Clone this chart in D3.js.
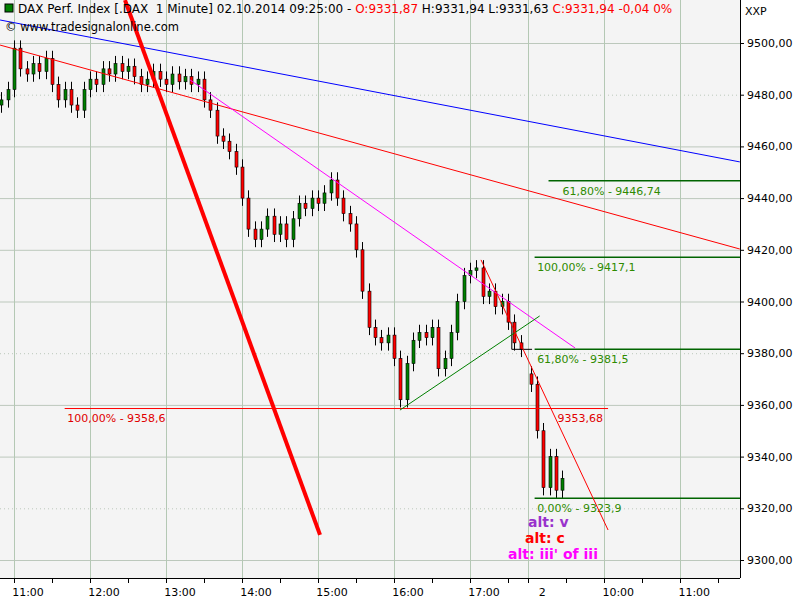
<!DOCTYPE html>
<html><head><meta charset="utf-8">
<script src="https://cdnjs.cloudflare.com/ajax/libs/d3/7.8.5/d3.min.js"></script>
<style>body{margin:0;background:#fff}text{font-family:"DejaVu Sans",sans-serif}</style>
</head><body><div id="chart"></div>
<script>
// t = minutes after 11:00 on day 1; day 2 09:00 continues at t=406
const day1Closes=[9478,9482,9498,9490,9488,9492,9489,9494,9484,9478,9482,9476,9474,9482,9486,9484,9490,9488,9492,9489,9491,9487,9484,9486,9489,9486,9484,9488,9485,9487,9484,9486,9478,9474,9464,9462,9458,9452,9440,9428,9424,9428,9433,9426,9430,9424,9432,9438,9436,9440,9438,9442,9447,9440,9434,9430,9420,9404,9390,9386,9384,9387,9378,9362,9376,9385,9388,9386,9390,9374,9378,9388,9400,9410,9412,9413,9402,9404,9398,9400,9392,9384,9381.5];
const day2Closes=[9368,9350,9328,9340,9327,9331.6];
const day2Open=9372;
const yTicks=[9300,9320,9340,9360,9380,9400,9420,9440,9460,9480,9500];
const dottedTicks=[9320,9380,9480];
const hourTicks=[{t:0,l:"11:00"},{t:60,l:"12:00"},{t:120,l:"13:00"},{t:180,l:"14:00"},{t:240,l:"15:00"},{t:300,l:"16:00"},{t:360,l:"17:00"},{t:406,l:"2"},{t:466,l:"10:00"},{t:526,l:"11:00"}];
const minorTicks=[-30,30,90,150,210,270,330,390,436,496,556];
const trendLines=[
 {a:[-11,9508.9],b:[573,9454],c:"#0000ff",w:1},
 {a:[-11,9499.2],b:[573,9420.3],c:"#ff0000",w:1},
 {a:[87.6,9516.6],b:[241.6,9309.7],c:"#ff0000",w:4},
 {a:[139,9485.7],b:[443,9382],c:"#ff00ff",w:1},
 {a:[304.7,9358],b:[415,9394.4],c:"#008000",w:1},
 {a:[368.7,9416.1],b:[469,9311.6],c:"#ff0000",w:1}
];
const fibs=[
 {p:9446.74,t0:422,l:"61,80% - 9446,74",lt:433},
 {p:9417.1,t0:411,l:"100,00% - 9417,1",lt:413},
 {p:9381.5,t0:411,l:"61,80% - 9381,5",lt:413},
 {p:9323.9,t0:411,l:"0,00% - 9323,9",lt:413}
];

const W=800,H=600,plotR=740,plotB=578;
const x=d3.scaleLinear().domain([0,60]).range([14,90]);
const y=d3.scaleLinear().domain([9300,9500]).range([560,43]);
const svg=d3.select("#chart").append("svg").attr("width",W).attr("height",H);
svg.append("rect").attr("width",plotR).attr("height",plotB).attr("fill","#f4f4f4");

// grid
svg.append("g").selectAll("line").data(yTicks).join("line")
 .attr("x1",0).attr("x2",plotR).attr("y1",d=>y(d)+.5).attr("y2",d=>y(d)+.5)
 .attr("stroke","#bcc8bc").attr("stroke-dasharray",d=>dottedTicks.includes(d)?"1,3":null);
svg.append("g").selectAll("line").data(hourTicks).join("line")
 .attr("x1",d=>Math.round(x(d.t))+.5).attr("x2",d=>Math.round(x(d.t))+.5).attr("y1",0).attr("y2",plotB)
 .attr("stroke","#b4c8b4");

// candles
const candles=[];
day1Closes.forEach((c,i)=>{const o=i?day1Closes[i-1]:9476;candles.push({t:-10+5*i,o,c});});
day2Closes.forEach((c,i)=>{const o=i?day2Closes[i-1]:day2Open;candles.push({t:406+2+5*i,o,c});});
const cg=svg.append("g");
cg.selectAll("line").data(candles).join("line")
 .attr("x1",d=>Math.round(x(d.t))+.5).attr("x2",d=>Math.round(x(d.t))+.5)
 .attr("y1",d=>y(Math.max(d.o,d.c)+3)).attr("y2",d=>y(Math.min(d.o,d.c)-3)).attr("stroke","#000");
cg.selectAll("rect").data(candles).join("rect")
 .attr("x",d=>Math.round(x(d.t))-1).attr("width",3)
 .attr("y",d=>y(Math.max(d.o,d.c))).attr("height",d=>Math.max(1,Math.abs(y(d.o)-y(d.c))))
 .attr("fill",d=>d.c>=d.o?"#008000":"#ff0000").attr("stroke","#000").attr("stroke-width",.6);

// step line
svg.append("path").attr("fill","none").attr("stroke","#000")
 .attr("d",d3.line()([[x(393),y(9392)],[x(393),y(9381.5)],[x(409),y(9381.5)]]));

// horizontal red
svg.append("line").attr("x1",x(40)).attr("x2",x(469)).attr("y1",y(9358.6)).attr("y2",y(9358.6)).attr("stroke","#ff0000");
svg.append("text").attr("x",x(42)).attr("y",y(9358.6)+13).attr("font-size",11).attr("fill","#e00000").text("100,00% - 9358,6");
svg.append("text").attr("x",x(429)).attr("y",y(9358.6)+13).attr("font-size",11).attr("fill","#e00000").text("9353,68");

// fibs
fibs.forEach(f=>{
 svg.append("line").attr("x1",x(f.t0)).attr("x2",plotR).attr("y1",y(f.p)).attr("y2",y(f.p)).attr("stroke","#006400").attr("stroke-width",1.5);
 svg.append("text").attr("x",x(f.lt)).attr("y",y(f.p)+14).attr("font-size",11).attr("fill","#2e8b00").text(f.l);
});

// trend lines
trendLines.forEach(l=>svg.append("line").attr("x1",x(l.a[0])).attr("y1",y(l.a[1])).attr("x2",x(l.b[0])).attr("y2",y(l.b[1])).attr("stroke",l.c).attr("stroke-width",l.w));

// wave labels
[["alt: v","#9932cc",528,527],["alt: c","#ff0000",525,543],["alt: iii' of iii","#ff00ff",508,559]].forEach(a=>
 svg.append("text").attr("x",a[2]).attr("y",a[3]).attr("font-size",14).attr("font-weight","bold").attr("fill",a[1]).text(a[0]));

// axes
svg.append("line").attr("x1",plotR+.5).attr("x2",plotR+.5).attr("y1",0).attr("y2",plotB).attr("stroke","#000");
svg.append("line").attr("x1",0).attr("x2",plotR).attr("y1",plotB+.5).attr("y2",plotB+.5).attr("stroke","#000");
const ra=svg.append("g").attr("transform",`translate(${plotR},0)`).call(d3.axisRight(y).tickValues(yTicks).tickSize(4).tickFormat(d=>d3.format(".2f")(d).replace(".",",")));
ra.select(".domain").remove();
ra.selectAll("text").attr("font-size",11).attr("font-family","DejaVu Sans");
svg.append("g").selectAll("line").data(hourTicks.map(d=>d.t).concat(minorTicks)).join("line")
 .attr("x1",d=>Math.round(x(d))+.5).attr("x2",d=>Math.round(x(d))+.5).attr("y1",plotB).attr("y2",plotB+5).attr("stroke","#000");
svg.append("g").selectAll("text").data(hourTicks).join("text")
 .attr("x",d=>x(d.t)+14).attr("y",596).attr("text-anchor","middle").attr("font-size",11).text(d=>d.l);
svg.append("text").attr("x",745).attr("y",15).attr("font-size",11).text("XXP");

// header
svg.append("rect").attr("x",5).attr("y",4).attr("width",8).attr("height",8).attr("fill","#008000").attr("stroke","#000");
const hd=svg.append("text").attr("x",18).attr("y",13).attr("font-size",12).attr("font-family","Liberation Sans");
[["DAX Perf. Index [.DAX  1 Minute] 02.10.2014 09:25:00 - ","#000"],["O:9331,87 ","#ff0000"],["H:9331,94 L:9331,63 ","#000"],["C:9331,94 -0,04 0%","#ff0000"]]
 .forEach(s=>hd.append("tspan").attr("fill",s[1]).attr("xml:space","preserve").text(s[0]));
svg.append("text").attr("x",5).attr("y",31).attr("font-size",11.5).attr("font-family","Liberation Sans").text("© www.tradesignalonline.com");
</script></body></html>
